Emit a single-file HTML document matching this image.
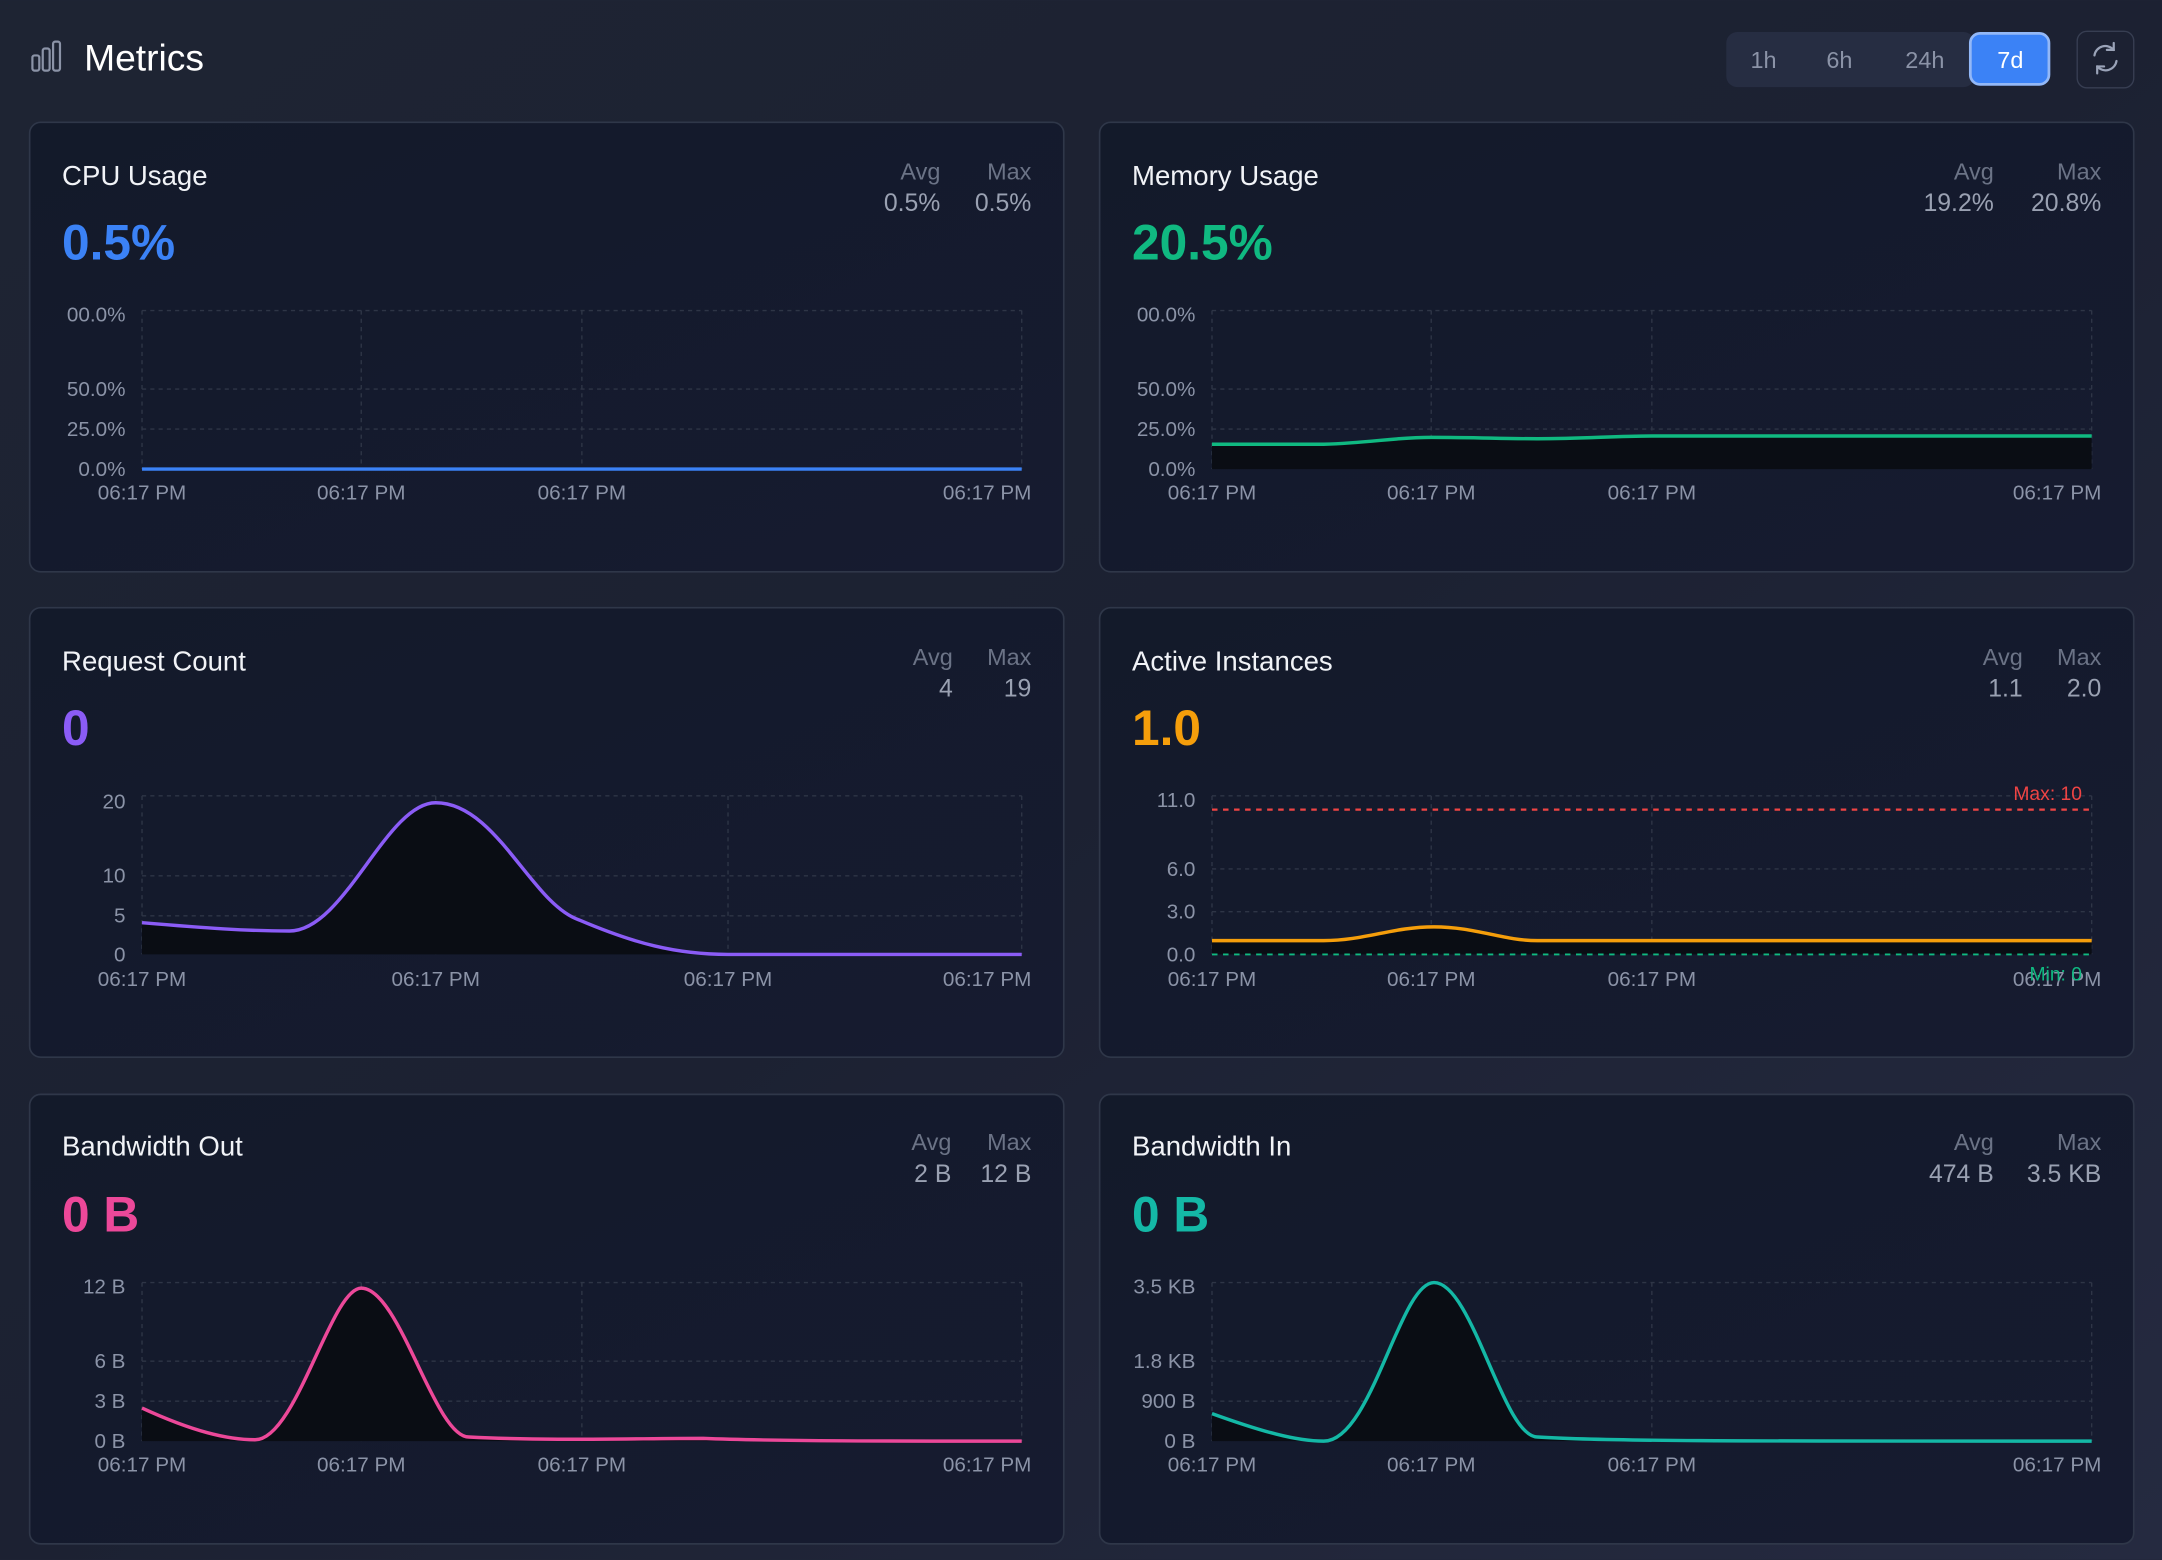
<!DOCTYPE html>
<html><head><meta charset="utf-8"><style>
html,body{margin:0;padding:0;width:2162px;height:1560px;overflow:hidden;background:#1f2536;}
svg{display:block}
text{font-family:"Liberation Sans",sans-serif;}
</style></head><body>
<svg width="2162" height="1560" viewBox="0 0 1568 1131" xmlns="http://www.w3.org/2000/svg">
<defs>
<linearGradient id="bg" x1="0" y1="0" x2="1" y2="1">
<stop offset="0" stop-color="#1e2433"/><stop offset="0.5" stop-color="#1c2132"/><stop offset="1" stop-color="#252a40"/>
</linearGradient>
<linearGradient id="card" x1="0" y1="0" x2="1" y2="1">
<stop offset="0" stop-color="#131a2a"/><stop offset="1" stop-color="#161b30"/>
</linearGradient>
</defs>
<rect width="1568" height="1131" fill="url(#bg)"/>
<g fill="none" stroke="#8b93a7" stroke-width="1.6">
<rect x="23.5" y="40" width="5" height="11" rx="1.5"/>
<rect x="31" y="35" width="5" height="16" rx="1.5"/>
<rect x="38.5" y="30" width="5" height="21" rx="1.5"/>
</g>
<text x="61" y="51" font-size="27" fill="#ffffff">Metrics</text>
<rect x="1252" y="23" width="180" height="40" rx="8" fill="#262d42"/>
<text x="1279" y="49" font-size="17" fill="#8b93a7" text-anchor="middle">1h</text>
<text x="1334" y="49" font-size="17" fill="#8b93a7" text-anchor="middle">6h</text>
<text x="1396" y="49" font-size="17" fill="#8b93a7" text-anchor="middle">24h</text>
<rect x="1429" y="24" width="57" height="37" rx="7" fill="#3b82f6" stroke="#93b8f7" stroke-width="2"/>
<text x="1458" y="49" font-size="17" fill="#ffffff" text-anchor="middle">7d</text>
<rect x="1506.5" y="22.5" width="41" height="41" rx="7" fill="none" stroke="#373e52" stroke-width="1"/>
<g fill="none" stroke="#9aa3b8" stroke-width="1.6" stroke-linecap="round">
<path d="M1519 40 a8 8 0 0 1 14 -4"/><path d="M1535 44 a8 8 0 0 1 -14 4"/>
<path d="M1533 31 v5 h-5"/><path d="M1521 53 v-5 h5"/>
</g>

<g stroke="#2f3749" stroke-width="1.2" fill="url(#card)">
<rect x="21.5" y="88.5" width="750" height="326" rx="8"/>
<rect x="797.5" y="88.5" width="750" height="326" rx="8"/>
<rect x="21.5" y="440.5" width="750" height="326" rx="8"/>
<rect x="797.5" y="440.5" width="750" height="326" rx="8"/>
<rect x="21.5" y="793.5" width="750" height="326" rx="8"/>
<rect x="797.5" y="793.5" width="750" height="326" rx="8"/>
</g>

<!-- CPU -->
<g>
<text x="45" y="134" font-size="20" fill="#f1f3f7">CPU Usage</text>
<text x="45" y="188" font-size="36" font-weight="bold" fill="#3b82f6">0.5%</text>
<text x="682" y="130" font-size="17" fill="#6b7386" text-anchor="end">Avg</text>
<text x="748" y="130" font-size="17" fill="#6b7386" text-anchor="end">Max</text>
<text x="682" y="153" font-size="18" fill="#9aa1b2" text-anchor="end">0.5%</text>
<text x="748" y="153" font-size="18" fill="#9aa1b2" text-anchor="end">0.5%</text>
<g stroke="#2e3546" stroke-dasharray="3 3" stroke-width="1" fill="none">
<path d="M103 225H741M103 282H741M103 311H741M103 225V340M262 225V340M422 225V340M741 225V340"/>
</g>
<g font-size="15" fill="#8b93a7" text-anchor="end">
<text x="91" y="233">00.0%</text><text x="91" y="287">50.0%</text><text x="91" y="316">25.0%</text><text x="91" y="345">0.0%</text>
</g>
<g font-size="15" fill="#8b93a7" text-anchor="middle">
<text x="103" y="362">06:17 PM</text><text x="262" y="362">06:17 PM</text><text x="422" y="362">06:17 PM</text><text x="748" y="362" text-anchor="end">06:17 PM</text>
</g>
<path d="M103 340H741" stroke="#3b82f6" stroke-width="2.5"/>
</g>

<!-- Memory -->
<g>
<text x="821" y="134" font-size="20" fill="#f1f3f7">Memory Usage</text>
<text x="821" y="188" font-size="36" font-weight="bold" fill="#10b981">20.5%</text>
<text x="1446" y="130" font-size="17" fill="#6b7386" text-anchor="end">Avg</text>
<text x="1524" y="130" font-size="17" fill="#6b7386" text-anchor="end">Max</text>
<text x="1446" y="153" font-size="18" fill="#9aa1b2" text-anchor="end">19.2%</text>
<text x="1524" y="153" font-size="18" fill="#9aa1b2" text-anchor="end">20.8%</text>
<g stroke="#2e3546" stroke-dasharray="3 3" stroke-width="1" fill="none">
<path d="M879 225H1517M879 282H1517M879 311H1517M879 225V340M1038 225V340M1198 225V340M1517 225V340"/>
</g>
<g font-size="15" fill="#8b93a7" text-anchor="end">
<text x="867" y="233">00.0%</text><text x="867" y="287">50.0%</text><text x="867" y="316">25.0%</text><text x="867" y="345">0.0%</text>
</g>
<g font-size="15" fill="#8b93a7" text-anchor="middle">
<text x="879" y="362">06:17 PM</text><text x="1038" y="362">06:17 PM</text><text x="1198" y="362">06:17 PM</text><text x="1524" y="362" text-anchor="end">06:17 PM</text>
</g>
<path d="M879 322L960 322C995 321 1010 317 1038 317C1070 317 1090 318 1115 318C1150 318 1170 316 1200 316L1517 316V340H879Z" fill="#0a0d14"/>
<path d="M879 322L960 322C995 321 1010 317 1038 317C1070 317 1090 318 1115 318C1150 318 1170 316 1200 316L1517 316" fill="none" stroke="#10b981" stroke-width="2.5"/>
</g>

<!-- Request -->
<g>
<text x="45" y="486" font-size="20" fill="#f1f3f7">Request Count</text>
<text x="45" y="540" font-size="36" font-weight="bold" fill="#8b5cf6">0</text>
<text x="691" y="482" font-size="17" fill="#6b7386" text-anchor="end">Avg</text>
<text x="748" y="482" font-size="17" fill="#6b7386" text-anchor="end">Max</text>
<text x="691" y="505" font-size="18" fill="#9aa1b2" text-anchor="end">4</text>
<text x="748" y="505" font-size="18" fill="#9aa1b2" text-anchor="end">19</text>
<g stroke="#2e3546" stroke-dasharray="3 3" stroke-width="1" fill="none">
<path d="M103 577H741M103 635H741M103 664H741M103 577V692M316 577V692M528 577V692M741 577V692"/>
</g>
<g font-size="15" fill="#8b93a7" text-anchor="end">
<text x="91" y="586">20</text><text x="91" y="640">10</text><text x="91" y="669">5</text><text x="91" y="697">0</text>
</g>
<g font-size="15" fill="#8b93a7" text-anchor="middle">
<text x="103" y="715">06:17 PM</text><text x="316" y="715">06:17 PM</text><text x="528" y="715">06:17 PM</text><text x="748" y="715" text-anchor="end">06:17 PM</text>
</g>
<path d="M103 669C150 673 180 675 210 675C250 675 280 582 316 582C360 582 385 655 420 667C460 684 490 692 528 692L741 692V692H103Z" fill="#0a0d14"/>
<path d="M103 669C150 673 180 675 210 675C250 675 280 582 316 582C360 582 385 655 420 667C460 684 490 692 528 692L741 692" fill="none" stroke="#8b5cf6" stroke-width="2.5"/>
</g>

<!-- Active -->
<g>
<text x="821" y="486" font-size="20" fill="#f1f3f7">Active Instances</text>
<text x="821" y="540" font-size="36" font-weight="bold" fill="#f59e0b">1.0</text>
<text x="1467" y="482" font-size="17" fill="#6b7386" text-anchor="end">Avg</text>
<text x="1524" y="482" font-size="17" fill="#6b7386" text-anchor="end">Max</text>
<text x="1467" y="505" font-size="18" fill="#9aa1b2" text-anchor="end">1.1</text>
<text x="1524" y="505" font-size="18" fill="#9aa1b2" text-anchor="end">2.0</text>
<g stroke="#2e3546" stroke-dasharray="3 3" stroke-width="1" fill="none">
<path d="M879 577H1517M879 630H1517M879 661H1517M879 577V692M1038 577V692M1198 577V692M1517 577V692"/>
</g>
<g font-size="15" fill="#8b93a7" text-anchor="end">
<text x="867" y="585">11.0</text><text x="867" y="635">6.0</text><text x="867" y="666">3.0</text><text x="867" y="697">0.0</text>
</g>
<g font-size="15" fill="#8b93a7" text-anchor="middle">
<text x="879" y="715">06:17 PM</text><text x="1038" y="715">06:17 PM</text><text x="1198" y="715">06:17 PM</text><text x="1524" y="715" text-anchor="end">06:17 PM</text>
</g>
<path d="M879 682L960 682C990 682 1010 672 1040 672C1070 672 1090 682 1115 682L1517 682V692H879Z" fill="#0a0d14"/>
<path d="M879 682L960 682C990 682 1010 672 1040 672C1070 672 1090 682 1115 682L1517 682" fill="none" stroke="#f59e0b" stroke-width="2.5"/>
<path d="M879 587H1517" stroke="#ef4444" stroke-width="1.6" stroke-dasharray="4 4"/>
<path d="M879 692H1517" stroke="#10b981" stroke-width="1.4" stroke-dasharray="4 4"/>
<text x="1510" y="580" font-size="14" fill="#ef4444" text-anchor="end">Max: 10</text>
<text x="1510" y="711" font-size="14" fill="#10b981" text-anchor="end">Min: 0</text>
</g>

<!-- BW Out -->
<g>
<text x="45" y="838" font-size="20" fill="#f1f3f7">Bandwidth Out</text>
<text x="45" y="893" font-size="36" font-weight="bold" fill="#ec4899">0 B</text>
<text x="690" y="834" font-size="17" fill="#6b7386" text-anchor="end">Avg</text>
<text x="748" y="834" font-size="17" fill="#6b7386" text-anchor="end">Max</text>
<text x="690" y="857" font-size="18" fill="#9aa1b2" text-anchor="end">2 B</text>
<text x="748" y="857" font-size="18" fill="#9aa1b2" text-anchor="end">12 B</text>
<g stroke="#2e3546" stroke-dasharray="3 3" stroke-width="1" fill="none">
<path d="M103 930H741M103 987H741M103 1016H741M103 930V1045M262 930V1045M422 930V1045M741 930V1045"/>
</g>
<g font-size="15" fill="#8b93a7" text-anchor="end">
<text x="91" y="938">12 B</text><text x="91" y="992">6 B</text><text x="91" y="1021">3 B</text><text x="91" y="1050">0 B</text>
</g>
<g font-size="15" fill="#8b93a7" text-anchor="middle">
<text x="103" y="1067">06:17 PM</text><text x="262" y="1067">06:17 PM</text><text x="422" y="1067">06:17 PM</text><text x="748" y="1067" text-anchor="end">06:17 PM</text>
</g>
<path d="M103 1021C140 1038 165 1044 185 1044C215 1044 240 934 262 934C290 934 315 1042 340 1042C400 1045 460 1043 510 1043C560 1045 650 1045 741 1045V1045H103Z" fill="#0a0d14"/>
<path d="M103 1021C140 1038 165 1044 185 1044C215 1044 240 934 262 934C290 934 315 1042 340 1042C400 1045 460 1043 510 1043C560 1045 650 1045 741 1045" fill="none" stroke="#ec4899" stroke-width="2.5"/>
</g>

<!-- BW In -->
<g>
<text x="821" y="838" font-size="20" fill="#f1f3f7">Bandwidth In</text>
<text x="821" y="893" font-size="36" font-weight="bold" fill="#14b8a6">0 B</text>
<text x="1446" y="834" font-size="17" fill="#6b7386" text-anchor="end">Avg</text>
<text x="1524" y="834" font-size="17" fill="#6b7386" text-anchor="end">Max</text>
<text x="1446" y="857" font-size="18" fill="#9aa1b2" text-anchor="end">474 B</text>
<text x="1524" y="857" font-size="18" fill="#9aa1b2" text-anchor="end">3.5 KB</text>
<g stroke="#2e3546" stroke-dasharray="3 3" stroke-width="1" fill="none">
<path d="M879 930H1517M879 987H1517M879 1016H1517M879 930V1045M1038 930V1045M1198 930V1045M1517 930V1045"/>
</g>
<g font-size="15" fill="#8b93a7" text-anchor="end">
<text x="867" y="938">3.5 KB</text><text x="867" y="992">1.8 KB</text><text x="867" y="1021">900 B</text><text x="867" y="1050">0 B</text>
</g>
<g font-size="15" fill="#8b93a7" text-anchor="middle">
<text x="879" y="1067">06:17 PM</text><text x="1038" y="1067">06:17 PM</text><text x="1198" y="1067">06:17 PM</text><text x="1524" y="1067" text-anchor="end">06:17 PM</text>
</g>
<path d="M879 1025C915 1038 940 1045 960 1045C995 1045 1015 930 1040 930C1068 930 1090 1042 1115 1042C1160 1045 1250 1045 1517 1045V1045H879Z" fill="#0a0d14"/>
<path d="M879 1025C915 1038 940 1045 960 1045C995 1045 1015 930 1040 930C1068 930 1090 1042 1115 1042C1160 1045 1250 1045 1517 1045" fill="none" stroke="#14b8a6" stroke-width="2.5"/>
</g>
</svg>
</body></html>
